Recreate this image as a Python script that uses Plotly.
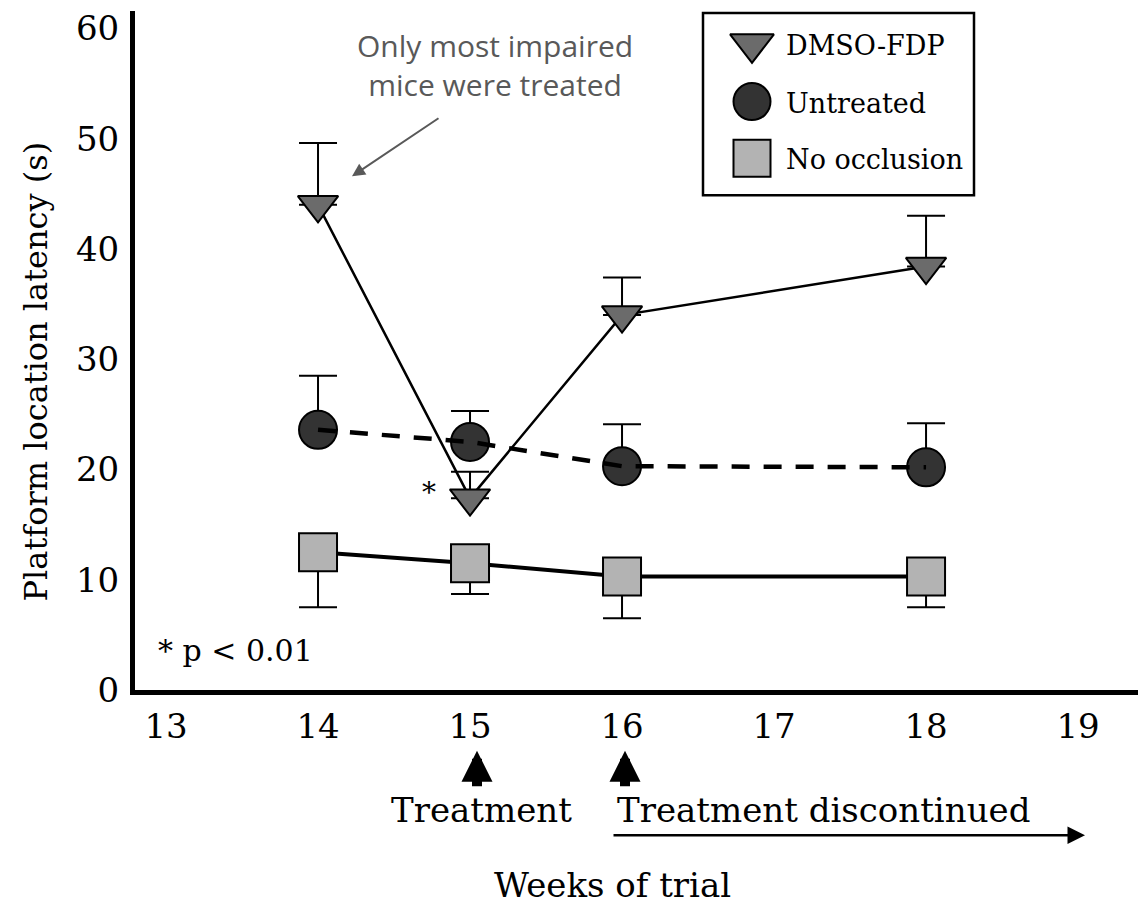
import plotly.graph_objects as go

# ---------------- data ----------------
weeks = [14, 15, 16, 18]
x_ticks = [13, 14, 15, 16, 17, 18, 19]
y_ticks = [0, 10, 20, 30, 40, 50, 60]

dmso_fdp = [44.0, 17.4, 34.0, 38.4]
dmso_fdp_err_up = [5.6, 2.4, 3.4, 4.6]

untreated = [23.6, 22.5, 20.3, 20.2]
untreated_err_up = [4.9, 2.8, 3.8, 4.0]

no_occlusion = [12.5, 11.5, 10.3, 10.3]
no_occlusion_err_down = [5.0, 2.8, 3.8, 2.8]

series_names = ["DMSO-FDP", "Untreated", "No occlusion"]

# ---------------- style / geometry ----------------
SERIF = "DejaVu Serif"
SANS = "Open Sans"
C_TRI = "#6b6b6b"
C_CIR = "#333333"
C_SQR = "#b3b3b3"

PAGE_OFF = 8                       # default body margin of the html page
WIN_W, WIN_H = 1146, 907
W, H = WIN_W - PAGE_OFF, WIN_H - PAGE_OFF
# plot area in window pixels
PX0, PX1, PY0, PY1 = 135, 1146, 8, 690
L, R = PX0 - PAGE_OFF, (WIN_W - PX1)
T, B = PY0 - PAGE_OFF, H - (PY1 - PAGE_OFF)
X_RANGE = [12.796, 19.447]
Y_RANGE = [0, (PY1 - PY0) / 11.075]


def pxp(xw):
    return (xw - PX0) / (PX1 - PX0)


def pyp(yw):
    return (PY1 - yw) / (PY1 - PY0)


fig = go.Figure()

err_style = dict(color="black", thickness=2, width=19)

# DMSO-FDP
fig.add_trace(go.Scatter(
    x=weeks, y=dmso_fdp, name=series_names[0], mode="lines+markers",
    line=dict(color="black", width=2.5),
    marker=dict(symbol="triangle-down", size=35, color=C_TRI, opacity=1,
                line=dict(color="black", width=2)),
    error_y=dict(type="data", symmetric=False, array=dmso_fdp_err_up,
                 arrayminus=[0] * len(weeks), **err_style),
))

# No occlusion
fig.add_trace(go.Scatter(
    x=weeks, y=no_occlusion, name=series_names[2], mode="lines+markers",
    line=dict(color="black", width=4),
    marker=dict(symbol="square", size=38, color=C_SQR, opacity=1,
                line=dict(color="black", width=2)),
    error_y=dict(type="data", symmetric=False, array=[0] * len(weeks),
                 arrayminus=no_occlusion_err_down, **err_style),
))

# Untreated markers
fig.add_trace(go.Scatter(
    x=weeks, y=untreated, name=series_names[1], mode="markers",
    marker=dict(symbol="circle", size=38, color=C_CIR, opacity=1,
                line=dict(color="black", width=2)),
    error_y=dict(type="data", symmetric=False, array=untreated_err_up,
                 arrayminus=[0] * len(weeks), **err_style),
))
# Untreated dashed line (drawn over its markers as in the reference)
fig.add_trace(go.Scatter(
    x=weeks, y=untreated, name=series_names[1], mode="lines",
    line=dict(color="black", width=4.5, dash="18px,14px"),
    hoverinfo="skip",
))

# ---------------- custom legend (overlay axes in window pixels) ----------------
leg_x = 752
leg_y = [41, 99, 156]
fig.add_trace(go.Scatter(
    x=[leg_x] * 3, y=leg_y, mode="markers", xaxis="x2", yaxis="y2",
    marker=dict(symbol=["triangle-down", "circle", "square"],
                size=[38, 37, 37], color=[C_TRI, C_CIR, C_SQR], opacity=1,
                line=dict(color="black", width=2)),
    hoverinfo="skip",
))

shapes = [dict(type="rect", xref="paper", yref="paper",
               x0=pxp(703), x1=pxp(974), y0=pyp(10), y1=pyp(193),
               line=dict(color="black", width=2.5), fillcolor="rgba(0,0,0,0)",
               layer="below")]

ann = []


def text(t, xw, yw, size, family=SERIF, color="black", **kw):
    d = dict(text=t, xref="paper", yref="paper", x=pxp(xw), y=pyp(yw),
             xanchor="center", yanchor="middle",
             showarrow=False, font=dict(family=family, size=size, color=color))
    d.update(kw)
    ann.append(d)


def arrow(x_tip, y_tip, x_tail, y_tail, **kw):
    d = dict(text="", xref="paper", yref="paper", x=pxp(x_tip), y=pyp(y_tip),
             axref="pixel", ayref="pixel", ax=x_tail - x_tip, ay=y_tail - y_tip,
             showarrow=True)
    d.update(kw)
    ann.append(d)


for name, yy in zip(series_names, [43, 101, 157]):
    text(name, 784, yy, 27, xanchor="left")

# note text + arrow
text("Only most impaired<br>mice were treated", 495, 62, 30, family=SANS,
     color="#595959", align="center")
arrow(352, 174, 440, 115, arrowhead=2, arrowsize=1.3, arrowwidth=2,
      arrowcolor="#595959")

# significance marks
text("*", 429, 492, 28)
text("* p < 0.01", 235, 650, 30)

# treatment arrows below the axis
for ax_x in [477, 625]:
    arrow(ax_x, 751, ax_x, 788, arrowhead=2, arrowsize=0.62, arrowwidth=10,
          arrowcolor="black")
text("Treatment", 481, 811, 34)
text("Treatment discontinued", 823, 811, 34)
arrow(1085, 836, 612, 836, arrowhead=2, arrowsize=1.4, arrowwidth=2.5,
      arrowcolor="black")

# axis titles
text("Weeks of trial", 612, 886, 34)
text("Platform location latency (s)", 36, 370, 32, textangle=-90)

fig.update_layout(
    width=W, height=H,
    margin=dict(l=L, r=R, t=T, b=B, pad=0),
    paper_bgcolor="white", plot_bgcolor="white",
    font=dict(family=SERIF, size=32, color="black"),
    showlegend=False,
    xaxis=dict(range=X_RANGE, tickvals=x_ticks, ticktext=[str(v) for v in x_ticks],
               showgrid=False, zeroline=False, showline=True, linewidth=5,
               linecolor="black", ticks="", tickfont=dict(family=SERIF, size=34),
               ticklabelstandoff=2, ticklabeloverflow="allow"),
    yaxis=dict(range=Y_RANGE, tickvals=y_ticks, ticktext=[str(v) for v in y_ticks],
               showgrid=False, zeroline=False, showline=True, linewidth=5,
               linecolor="black", ticks="", tickfont=dict(family=SERIF, size=34),
               ticklabelstandoff=4, ticklabeloverflow="allow"),
    xaxis2=dict(range=[PX0, PX1], overlaying="x", visible=False, fixedrange=True),
    yaxis2=dict(range=[PY1, PY0], overlaying="y", visible=False, fixedrange=True),
    shapes=shapes,
    annotations=ann,
)

fig.write_html("out.html")
